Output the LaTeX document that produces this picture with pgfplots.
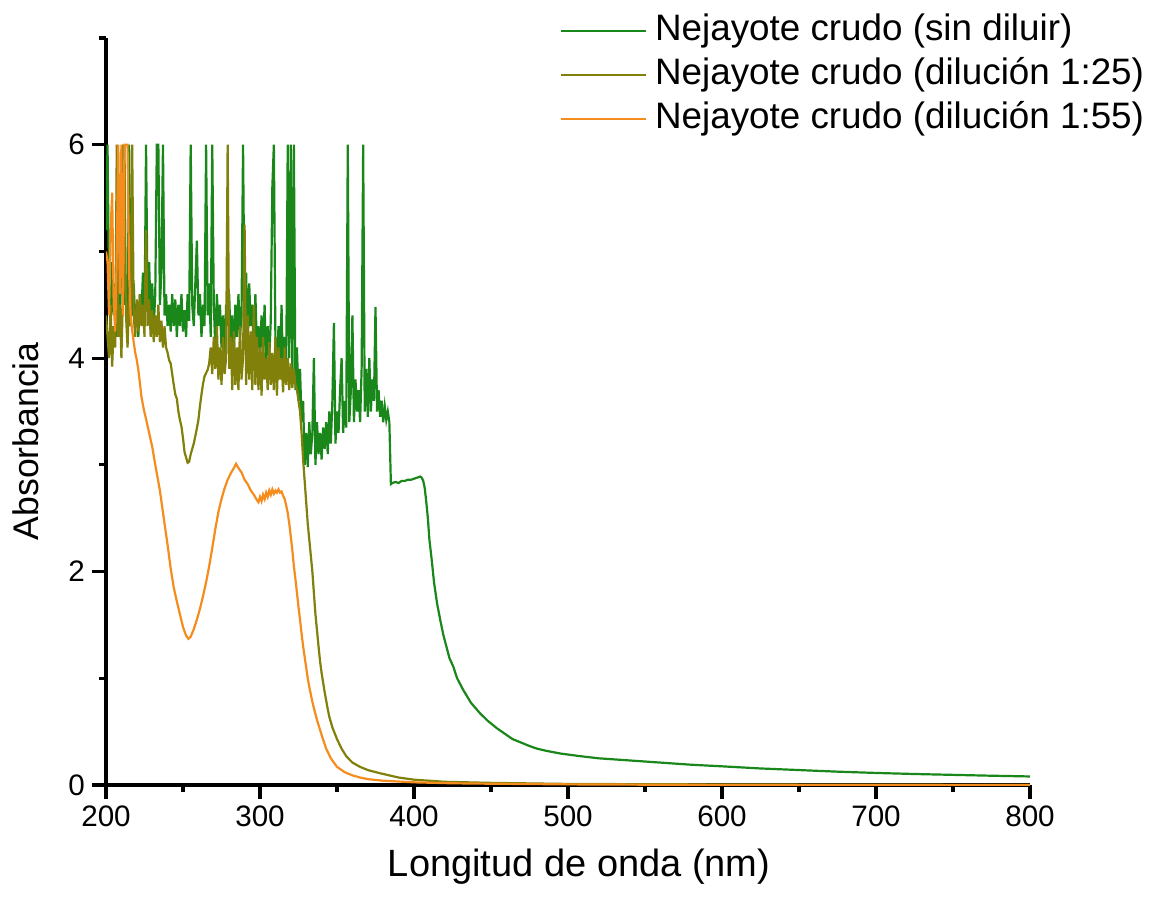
\documentclass[border=0pt]{standalone}
\usepackage{pgfplots}
\pgfplotsset{compat=1.18}
\usepackage{fontspec}
\setmainfont{Liberation Sans}
\definecolor{cgreen}{RGB}{25,135,25}
\definecolor{colive}{RGB}{128,128,10}
\definecolor{corange}{RGB}{245,140,30}
\begin{document}
\begin{tikzpicture}
\begin{axis}[
 scale only axis, width=462pt, height=373.5pt,
 xmin=200, xmax=800, ymin=0, ymax=7,
 axis lines=left, axis line style={-, line width=1.7pt},
 every outer x axis line/.append style={line width=1.7pt},
 every outer y axis line/.append style={line width=1.7pt},
 xtick={200,300,...,800}, minor xtick={250,350,...,750},
 ytick={0,2,4,6}, minor ytick={1,3,5,7},
 tick align=outside, major tick length=7pt, minor tick length=3.5pt,
 every tick/.style={black, line width=1.6pt},
 major tick style={black, line width=1.6pt},
 minor tick style={black, line width=1.6pt},
 /pgf/number format/assume math mode=true,
 ticklabel style={font=\fontsize{14.8}{17}\selectfont},
 xlabel={Longitud de onda (nm)}, ylabel={Absorbancia},
 xlabel style={font=\fontsize{19}{22}\selectfont, at={(axis description cs:0.512,0)}, anchor=base, yshift=-45.5pt},
 ylabel style={font=\fontsize{17.8}{22}\selectfont, at={(axis description cs:0,0.46)}, anchor=base, yshift=33.5pt},
 legend style={at={(rel axis cs:0.4913,1.032)}, anchor=north west, draw=none, fill=none,
   inner sep=0pt, outer sep=0pt, row sep=5pt, column sep=4pt,
   font=\fontsize{18.4}{22}\selectfont, nodes={inner sep=0pt, text height=13pt, text depth=4pt}},
 legend cell align=left,
 legend image code/.code={\draw[#1] (0pt,0pt) -- (42.5pt,0pt);},
]
\addplot[cgreen, line width=1.1pt] coordinates {
(200,5.2)(201,6.0)(202,4.6)(203,4.3)(204,4.9)(205,4.4)(206,4.7)(207,4.2)(208,4.8)(209,4.4)
(210,4.9)(211,6.0)(212,4.5)(213,4.7)(214,4.3)(215,6.0)(216,4.6)(217,4.4)(218,4.7)(219,4.3)
(220,4.5)(221,4.2)(222,4.6)(223,4.4)(224,4.8)(225,4.3)(226,6.0)(227,4.5)(228,4.9)(229,4.4)
(230,4.7)(231,4.3)(232,4.6)(233,6.0)(234,6.0)(235,4.5)(236,4.8)(237,6.0)(238,4.4)(239,4.6)
(240,4.3)(241,4.5)(242,4.25)(243,4.6)(244,4.3)(245,4.55)(246,4.2)(247,4.5)(248,4.3)(249,4.6)
(250,4.25)(251,4.45)(252,4.2)(253,4.6)(254,4.35)(255,6.0)(256,4.5)(257,4.3)(258,4.7)(259,5.1)
(260,4.4)(261,4.6)(262,4.2)(263,4.5)(264,4.3)(265,6.0)(266,4.4)(267,4.7)(268,4.2)(269,6.0)
(270,4.5)(271,4.1)(272,4.6)(273,4.3)(274,4.5)(275,4.1)(276,4.4)(277,4.0)(278,4.5)(279,4.3)
(280,4.6)(281,4.1)(282,4.4)(283,4.0)(284,4.5)(285,4.2)(286,4.6)(287,4.2)(288,4.4)(289,6.0)
(290,4.3)(291,4.8)(292,4.1)(293,4.7)(294,4.3)(295,4.5)(296,4.0)(297,4.6)(298,4.1)(299,4.3)
(300,4.0)(301,4.4)(302,4.1)(303,4.5)(304,3.9)(305,4.3)(306,4.0)(307,4.35)(308,5.6)(309,6.0)
(310,4.2)(311,3.85)(312,4.3)(313,3.9)(314,4.5)(315,3.8)(316,4.2)(317,3.8)(318,6.0)(319,4.0)
(320,6.0)(321,3.8)(322,6.0)(323,3.7)(324,4.1)(325,3.6)(326,3.9)(327,3.4)(328,3.6)(329,3.0)
(330,3.3)(331,2.98)(332,3.4)(333,3.1)(334,3.3)(335,4.0)(336,3.0)(337,3.4)(338,3.1)(339,3.3)
(340,3.05)(341,3.35)(342,3.15)(343,3.4)(344,3.1)(345,3.5)(346,3.2)(347,3.6)(348,4.33)(349,3.2)
(350,3.5)(351,3.3)(352,3.7)(353,4.0)(354,3.3)(355,3.6)(356,3.35)(357,6.0)(358,3.4)(359,3.7)
(360,4.4)(361,3.4)(362,3.8)(363,3.5)(364,3.7)(365,3.4)(366,3.9)(367,6.0)(368,3.5)(369,3.9)
(370,3.45)(371,4.0)(372,3.5)(373,3.8)(374,3.6)(375,4.48)(376,3.5)(377,3.7)(378,3.45)(379,3.6)
(380,3.4)(381,3.55)(382,3.42)(383,3.5)(384,3.40)(385,2.82)(386,2.83)(388,2.84)(390,2.83)
(392,2.85)(394,2.85)(396,2.86)(398,2.86)(400,2.87)(402,2.88)(404,2.89)(405,2.88)(406,2.85)
(407,2.78)(408,2.65)(409,2.5)(410,2.3)(411.5,2.11)(413,1.9)(415,1.7)(417,1.55)(419,1.41)
(421,1.30)(423,1.19)(425.5,1.11)(428,1.0)(432,0.89)(437,0.77)(443,0.67)(448,0.6)(454,0.53)
(459,0.48)(464,0.43)(470,0.395)(475,0.365)(480,0.34)(486,0.32)(495,0.295)(508,0.27)(520,0.25)
(540,0.23)(560,0.21)(580,0.19)(600,0.175)(625,0.155)(650,0.14)(675,0.125)(700,0.113)
(725,0.103)(750,0.095)(775,0.087)(800,0.08)
};
\addlegendentry{Nejayote crudo (sin diluir)}
\addplot[colive, line width=1.1pt] coordinates {
(200,4.4)(201,4.2)(202,4.0)(203,4.5)(204,3.92)(205,4.3)(206,4.1)(207,6.0)(208,4.2)(209,4.5)
(210,4.0)(211,4.6)(212,6.0)(213,4.4)(214,4.1)(215,4.6)(216,4.3)(217,6.0)(218,4.4)(219,4.2)
(220,4.55)(221,4.25)(222,4.6)(223,4.3)(224,4.5)(225,4.2)(226,5.2)(227,4.3)(228,4.55)(229,4.2)
(230,4.45)(231,4.15)(232,4.4)(233,4.2)(234,4.5)(235,4.15)(236,4.35)(237,4.1)(238,4.3)(239,4.1)
(240,4.05)(241,3.98)(242,3.95)(243,3.85)(244,3.75)(245,3.66)(246,3.62)(247,3.5)(248,3.42)(249,3.36)
(250,3.25)(251,3.12)(252,3.07)(253,3.02)(254,3.03)(255,3.1)(256,3.15)(257,3.2)(258,3.27)(259,3.34)
(260,3.42)(261,3.55)(262,3.66)(263,3.76)(264,3.83)(265,3.86)(266,3.89)(267,3.95)(268,4.1)(269,3.85)
(270,4.2)(271,3.9)(272,4.3)(273,3.8)(274,4.1)(275,3.75)(276,4.2)(277,3.85)(278,4.0)(279,6.0)
(280,3.9)(281,4.2)(282,3.7)(283,4.25)(284,3.75)(285,4.1)(286,3.7)(287,4.3)(288,3.8)(289,4.0)
(290,5.25)(291,3.75)(292,4.4)(293,3.8)(294,4.25)(295,3.7)(296,4.5)(297,3.75)(298,4.2)(299,3.7)
(300,4.1)(301,3.65)(302,4.2)(303,3.8)(304,4.0)(305,3.7)(306,4.15)(307,3.75)(308,4.05)(309,3.7)
(310,4.2)(311,3.65)(312,4.1)(313,3.8)(314,4.0)(315,3.68)(316,4.1)(317,3.75)(318,4.0)(319,3.7)
(320,3.95)(321,3.72)(322,3.9)(323,3.75)(324,3.7)(325,3.6)(326,3.5)(327,3.3)(328,3.05)
(329,2.85)(330,2.65)(331,2.45)(332,2.3)(333,2.15)(334,2.0)(335,1.8)(336,1.6)(337,1.45)(338,1.3)
(339,1.16)(340,1.05)(341,0.96)(342,0.87)(343,0.79)(344,0.71)(345,0.64)(347,0.54)(350,0.43)
(353,0.34)(356,0.27)(360,0.21)(365,0.17)(370,0.14)(378,0.11)(390,0.07)(400,0.05)(420,0.03)
(450,0.02)(500,0.01)(600,0.005)(800,0.0)
};
\addlegendentry{Nejayote crudo (dilución 1:25)}
\addplot[corange, line width=1.1pt] coordinates {
(200,5.0)(201,4.9)(202,4.4)(203,5.2)(204,5.55)(205,4.5)(206,4.25)(207,5.0)(208,6.0)(209,4.6)
(210,6.0)(211,4.4)(212,6.0)(213,6.0)(214,6.0)(215,4.8)(216,4.4)(217,4.26)(218,4.15)(219,4.05)
(220,3.98)(221,3.89)(222,3.77)(223,3.64)(224,3.56)(225,3.49)(226,3.43)(228,3.3)(230,3.17)
(232,3.0)(235,2.76)(238,2.45)(240,2.25)(242,2.03)(244,1.85)(246,1.72)(248,1.6)(250,1.48)
(252,1.4)(253.5,1.37)(255,1.39)(257,1.46)(259,1.55)(261,1.65)(263,1.77)(265,1.9)(267,2.05)
(269,2.22)(271,2.4)(273,2.56)(275,2.68)(277,2.78)(279,2.86)(281,2.92)(283,2.97)(284.5,3.01)
(286,2.97)(288,2.93)(290,2.86)(292,2.82)(294,2.76)(296,2.72)(298,2.67)(299,2.65)(300,2.7)
(301,2.66)(302,2.72)(303,2.68)(304,2.74)(305,2.7)(306,2.76)(307,2.72)(308,2.77)(309,2.73)
(310,2.76)(311,2.74)(312,2.77)(313,2.74)(314,2.75)(315,2.71)(316,2.68)(317,2.62)(318,2.55)
(319,2.45)(320,2.33)(321,2.2)(322,2.05)(323,1.93)(324,1.8)(325,1.67)(326,1.55)(327,1.42)
(328,1.3)(329,1.2)(330,1.1)(331,1.0)(332,0.92)(333,0.85)(334,0.78)(335,0.72)(337,0.61)
(340,0.47)(343,0.34)(346,0.25)(350,0.17)(355,0.12)(360,0.09)(365,0.07)(370,0.055)(380,0.04)
(400,0.025)(425,0.016)(450,0.012)(500,0.006)(550,0.003)(600,0.001)(800,0.0)
};
\addlegendentry{Nejayote crudo (dilución 1:55)}
\coordinate (O) at (rel axis cs:0,0);
\end{axis}
\path (O) ++(-53pt,-57pt) rectangle ++(575pt,449.5pt);
\end{tikzpicture}
\end{document}
